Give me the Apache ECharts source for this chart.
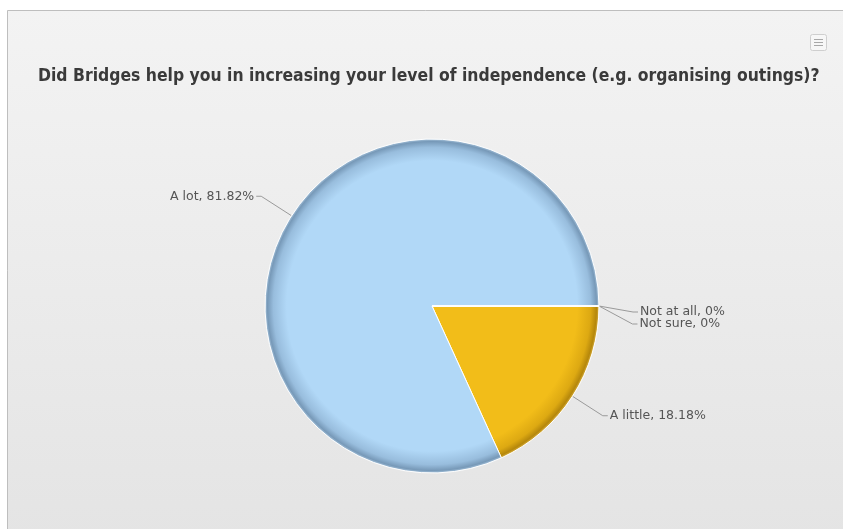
<!DOCTYPE html>
<html>
<head>
<meta charset="utf-8">
<style>
  html, body { margin: 0; padding: 0; background: #ffffff; }
  #chart { width: 843px; height: 529px; }
</style>
<script src="https://cdn.jsdelivr.net/npm/echarts@6/dist/echarts.min.js"></script>
</head>
<body>
<div id="chart"></div>
<script>
// Survey answers and their shares (percent of respondents)
const answers = ['A little', 'A lot', 'Not at all', 'Not sure'];
const shares = [18.18, 81.82, 0, 0];
const titleText = 'Did Bridges help you in increasing your level of independence (e.g. organising outings)?';

const CX = 432, CY = 306, R = 167;

// Shaded fill: flat centre, darker band towards the rim
function rimShade(base, mid, dark, rim) {
  return {
    type: 'radial', x: CX, y: CY, r: R, global: true,
    colorStops: [
      { offset: 0, color: base },
      { offset: 0.87, color: base },
      { offset: 0.95, color: mid },
      { offset: 0.985, color: dark },
      { offset: 1, color: rim }
    ]
  };
}
const blueFill = rimShade('#B1D8F7', '#98BDDD', '#7799B8', '#A8C4DC');
const fills = [
  rimShade('#F2BD19', '#DDA912', '#B5870B', '#D9B040'),
  blueFill, blueFill, blueFill
];

// Nudge the two empty-answer labels (and the ends of their leader lines) so they
// stack tightly just below the 3 o'clock seam
const ZERO_NUDGE = { 2: 6, 3: 3 };
function nudgeZeroLabels(p) {
  const d = ZERO_NUDGE[p.dataIndex];
  if (!d || !p.labelLinePoints) return {};
  const pts = p.labelLinePoints.map((pt, k) => (k === 0 ? [pt[0], pt[1]] : [pt[0], pt[1] + d]));
  return { dy: d, labelLinePoints: pts };
}

const chart = echarts.init(document.getElementById('chart'), null, { renderer: 'canvas' });

chart.setOption({
  animation: false,
  title: {
    text: titleText,
    left: 33,
    top: 63,
    textStyle: {
      fontFamily: 'DejaVu Sans Condensed',
      fontSize: 17.4,
      fontWeight: 'bold',
      color: '#3A3A3A'
    }
  },
  graphic: [
    {
      type: 'rect', z: -10, silent: true,
      shape: { x: 7.5, y: 10.5, width: 900, height: 600 },
      style: {
        fill: {
          type: 'linear', x: 0, y: 0, x2: 0, y2: 1,
          colorStops: [
            { offset: 0, color: '#F3F3F3' },
            { offset: 1, color: '#E2E2E2' }
          ]
        },
        stroke: '#BEBEBE', lineWidth: 1
      }
    },
    {
      type: 'group', silent: true,
      children: [
        {
          type: 'rect',
          shape: { x: 810.5, y: 34.5, width: 16, height: 16, r: 2 },
          style: { fill: '#F7F7F7', stroke: '#CFCFCF', lineWidth: 1 }
        },
        { type: 'line', shape: { x1: 814, y1: 39.5, x2: 823, y2: 39.5 }, style: { stroke: '#A8A8A8', lineWidth: 1 } },
        { type: 'line', shape: { x1: 814, y1: 42.5, x2: 823, y2: 42.5 }, style: { stroke: '#A8A8A8', lineWidth: 1 } },
        { type: 'line', shape: { x1: 814, y1: 45.5, x2: 823, y2: 45.5 }, style: { stroke: '#A8A8A8', lineWidth: 1 } }
      ]
    }
  ],
  series: [{
    type: 'pie',
    center: [CX, CY],
    radius: R,
    startAngle: 0,
    clockwise: true,
    avoidLabelOverlap: true,
    minAngle: 0,
    itemStyle: { borderColor: '#FFFFFF', borderWidth: 1 },
    label: {
      show: true,
      fontFamily: 'DejaVu Sans',
      fontSize: 12.5,
      lineHeight: 13,
      color: '#555555',
      distanceToLabelLine: 2,
      formatter: p => p.name + ', ' + p.value + '%'
    },
    labelLine: {
      show: true,
      length: 36,
      length2: 5,
      lineStyle: { color: '#9A9A9A', width: 1 }
    },
    labelLayout: nudgeZeroLabels,
    emphasis: { disabled: true },
    data: answers.map((name, i) => ({
      name: name,
      value: shares[i],
      itemStyle: { color: fills[i] }
    }))
  }]
});
</script>
</body>
</html>
